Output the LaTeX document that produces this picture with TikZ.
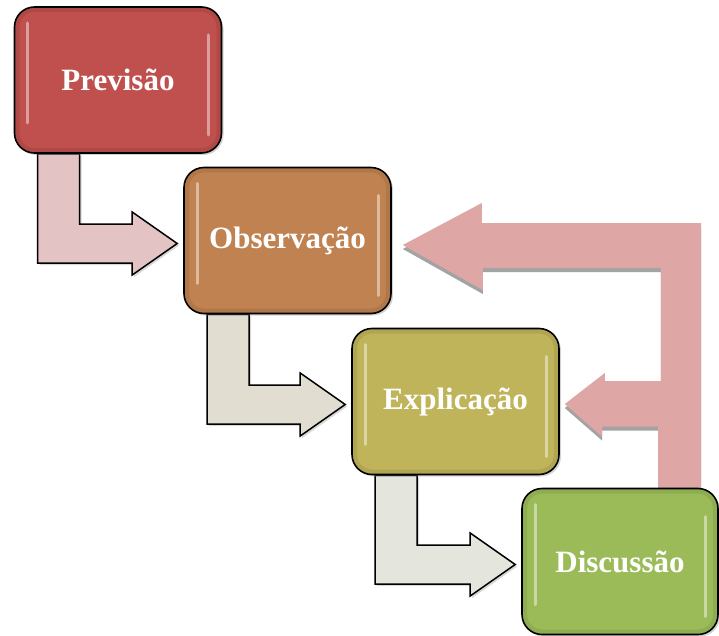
\documentclass[tikz,border=0pt]{standalone}
\usepackage{fontspec}
\setmainfont{Liberation Serif}
\usepackage{xcolor}
\definecolor{prevred}{HTML}{C0504D}
\definecolor{obsbrown}{HTML}{BF8250}
\definecolor{explolive}{HTML}{BFB45A}
\definecolor{discgreen}{HTML}{9BBB59}
\definecolor{looppink}{HTML}{DFA6A6}
\definecolor{loopshadow}{HTML}{A3A3A3}
\definecolor{bentpink}{HTML}{E3C3C4}
\definecolor{bentbeige}{HTML}{E1DDD1}
\definecolor{bentgrey}{HTML}{E4E6DE}
\usepackage{tikz}
\usetikzlibrary{calc, shadows}
\pgfdeclarelayer{background}
\pgfsetlayers{background,main}

% L-shaped arrow from under one stage to the left side of the next
\newcommand\bentarrow[3]{%
  \path[bent, fill=#3]
    ($(#1.south west)+(24,0)$) -- ($(#1.south west)+(66,0)$)
    |- ($(#2.west)+(-51,-16.5)$) -- ++(0,-12) -- ($(#2.west)+(-6,3)$)
    -- ($(#2.west)+(-51,34.5)$) -- ++(0,-12)
    -| ($(#1.south west)+(24,0)$) -- cycle;
}

\begin{document}
\begin{tikzpicture}[x=1pt, y=-1pt,
  stage/.style={draw=black, line width=1.6pt, rounded corners=20pt,
    minimum width=207pt, minimum height=146pt, inner sep=0pt,
    font=\bfseries\fontsize{31}{31}\selectfont, text=white,
    drop shadow={shadow xshift=2pt, shadow yshift=-2pt, opacity=.35},
    path picture={
      \draw[line width=10pt, black, opacity=.08, rounded corners=20pt]
        (path picture bounding box.north west) rectangle (path picture bounding box.south east);
      \draw[white, opacity=.45, line width=3pt, line cap=round]
        ($(path picture bounding box.north west)+(13,16)$) -- ($(path picture bounding box.south west)+(13,-30)$)
        ($(path picture bounding box.north east)+(-13,28)$) -- ($(path picture bounding box.south east)+(-13,-18)$);
    }},
  bent/.style={draw=black, line width=1.5pt, line join=miter,
    drop shadow={shadow xshift=2pt, shadow yshift=-2pt, opacity=.3}}]

  \useasboundingbox (0,0) rectangle (719,636);

  \node[stage, fill=prevred] (prev) at (118,80) {Previsão};
  \node[stage, fill=obsbrown] (obs) at (287.5,240.5) {Observação};
  \node[stage, fill=explolive] (expl) at (455.5,401.5) {Explicação};
  \node[stage, fill=discgreen, minimum width=196pt] (disc) at (620,561.5) {Discussão};

  \begin{pgfonlayer}{background}
    % feedback arrow back to Observação and Explicação
    \coordinate (tipobs) at ($(obs.east)+(11,4.5)$);
    \coordinate (tipexpl) at ($(expl.east)+(5,2.5)$);
    \coordinate (foot) at ($(disc.north west)+(137,0)$);
    \path[fill=looppink,
          drop shadow={shadow xshift=0pt, shadow yshift=-4pt, fill=loopshadow, opacity=1}]
      (tipobs) -- ++(79,-42) -- ++(0,20) -| ($(foot)+(43,0)$) -- (foot)
      -- ++(0,-61) -- ++(-56,0) -- ++(0,10) -- (tipexpl) -- ++(40,-31)
      -- ++(0,8) -- ++(56,0) -- ++(0,-113) -- ++(-178,0) -- ++(0,22) -- cycle;

    \bentarrow{prev}{obs}{bentpink}
    \bentarrow{obs}{expl}{bentbeige}
    \bentarrow{expl}{disc}{bentgrey}
  \end{pgfonlayer}
\end{tikzpicture}
\end{document}
